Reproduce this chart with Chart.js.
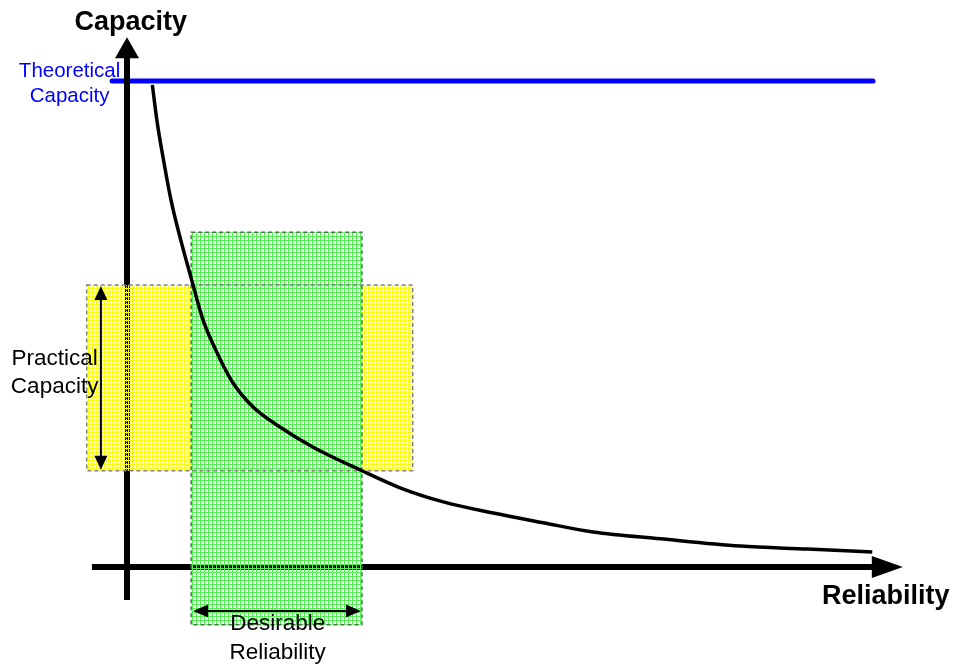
<!DOCTYPE html>
<html>
<head>
<meta charset="utf-8">
<script src="https://cdn.jsdelivr.net/npm/chart.js@4.4.1/dist/chart.umd.min.js"></script>
<style>
  html, body { margin: 0; padding: 0; background: #ffffff; }
  #wrap { width: 957px; height: 671px; }
</style>
</head>
<body>
<div id="wrap"><canvas id="c" width="957" height="671"></canvas></div>
<script>
// ---------- DATA (abstract units: Reliability on x, Capacity on y) ----------
const reliability = [0.34, 0.40, 0.49, 0.59, 0.72, 0.87, 1.02, 1.21, 1.42, 1.69, 2.05, 2.49, 3.15, 3.66, 4.24, 4.91, 5.58, 6.25, 7.15, 8.22, 9.12, 9.99];
const capacity    = [9.92, 9.20, 8.37, 7.55, 6.73, 5.89, 5.08, 4.40, 3.79, 3.29, 2.88, 2.47, 1.98, 1.63, 1.34, 1.11, 0.91, 0.72, 0.58, 0.43, 0.37, 0.31];

const theoreticalCapacity = 10;
const theoreticalSpan = [-0.20, 10.00];          // reliability extent of the theoretical line

const practicalCapacityRange = [1.98, 5.80];     // capacity band (yellow)
const practicalBandSpan = [-0.54, 3.83];         // reliability extent of yellow band

const desirableReliabilityRange = [0.86, 3.15];  // reliability band (green)
const desirableBandSpan = [-1.19, 6.89];         // capacity extent of green band

const xAxisSpan = [-0.47, 10.40];
const yAxisSpan = [-0.68, 10.90];

const axisTitles = ['Capacity', 'Reliability'];
const theoreticalLabel = ['Theoretical', 'Capacity'];
const practicalLabel = ['Practical', 'Capacity'];
const desirableLabel = ['Desirable', 'Reliability'];

// ---------- patterns ----------
function makePattern(rows, colors) {
  const c = document.createElement('canvas');
  c.width = rows[0].length; c.height = rows.length;
  const g = c.getContext('2d');
  rows.forEach((r, y) => {
    for (let x = 0; x < r.length; x++) {
      const col = colors[r[x]];
      if (col) { g.fillStyle = col; g.fillRect(x, y, 1, 1); }
    }
  });
  return g.createPattern(c, 'repeat');
}
const ctx0 = document.getElementById('c').getContext('2d');
const yellowPattern = makePattern(
  ['YYYY', 'Y.Y.', 'Yl.l', 'Y.Y.'],
  { Y: 'rgb(255,255,20)', l: 'rgba(255,255,0,0.2)' }
);
const greenPattern = makePattern(
  ['GGGG', 'G.l.', 'Gl.l', 'G.l.'],
  { G: 'rgb(80,240,80)', l: 'rgba(60,245,60,0.25)' }
);

const pts = (xs, ys) => xs.map((x, i) => ({ x, y: ys[i] }));

const FONT = '"Liberation Sans", Arial, Helvetica, sans-serif';

function arrowHead(ctx, tipX, tipY, dx, dy, len, half) {
  const bx = tipX - dx * len, by = tipY - dy * len;
  const nx = -dy, ny = dx;
  ctx.beginPath();
  ctx.moveTo(tipX, tipY);
  ctx.lineTo(bx + nx * half, by + ny * half);
  ctx.lineTo(bx - nx * half, by - ny * half);
  ctx.closePath();
  ctx.fill();
}

const diagramPlugin = {
  id: 'diagram',
  afterDatasetDraw(chart, args) {
    const ctx = chart.ctx;
    const X = v => chart.scales.x.getPixelForValue(v);
    const Y = v => chart.scales.y.getPixelForValue(v);
    if (args.index === 3) {
      ctx.save();
      ctx.fillStyle = '#000'; ctx.strokeStyle = '#000';
      ctx.lineWidth = 6;
      const yx = X(0), yb = Y(yAxisSpan[0]), yt = Y(yAxisSpan[1]);
      ctx.beginPath(); ctx.moveTo(yx, yb); ctx.lineTo(yx, yt + 20); ctx.stroke();
      arrowHead(ctx, yx, yt, 0, -1, 21, 12);
      const xy = Y(0), xl = X(xAxisSpan[0]), xr = X(xAxisSpan[1]);
      ctx.beginPath(); ctx.moveTo(xl, xy); ctx.lineTo(xr - 30, xy); ctx.stroke();
      arrowHead(ctx, xr, xy, 1, 0, 31, 11);
      ctx.restore();
    }
    if (args.index === 1) {
      ctx.save();
      ctx.lineWidth = 1.5;
      ctx.setLineDash([4, 3]);
      ctx.strokeStyle = 'rgb(130,130,130)';
      ctx.strokeRect(X(practicalBandSpan[0]), Y(practicalCapacityRange[1]),
        X(practicalBandSpan[1]) - X(practicalBandSpan[0]),
        Y(practicalCapacityRange[0]) - Y(practicalCapacityRange[1]));
      ctx.strokeStyle = 'rgb(70,120,70)';
      ctx.strokeRect(X(desirableReliabilityRange[0]), Y(desirableBandSpan[1]),
        X(desirableReliabilityRange[1]) - X(desirableReliabilityRange[0]),
        Y(desirableBandSpan[0]) - Y(desirableBandSpan[1]));
      ctx.restore();
    }
  },
  afterDatasetsDraw(chart) {
    const ctx = chart.ctx;
    const X = v => chart.scales.x.getPixelForValue(v);
    const Y = v => chart.scales.y.getPixelForValue(v);
    ctx.save();
    ctx.fillStyle = '#000'; ctx.strokeStyle = '#000'; ctx.lineWidth = 2;
    const ax = X(-0.35), aTop = Y(practicalCapacityRange[1]) + 1, aBot = Y(practicalCapacityRange[0]) - 1;
    ctx.beginPath(); ctx.moveTo(ax, aTop + 12); ctx.lineTo(ax, aBot - 12); ctx.stroke();
    arrowHead(ctx, ax, aTop, 0, -1, 14, 6.5);
    arrowHead(ctx, ax, aBot, 0, 1, 14, 6.5);
    const ay = Y(-0.905), aL = X(desirableReliabilityRange[0]) + 2, aR = X(desirableReliabilityRange[1]) - 1;
    ctx.beginPath(); ctx.moveTo(aL + 12, ay); ctx.lineTo(aR - 12, ay); ctx.stroke();
    arrowHead(ctx, aL, ay, -1, 0, 15, 6.5);
    arrowHead(ctx, aR, ay, 1, 0, 15, 6.5);

    ctx.textAlign = 'center';
    ctx.textBaseline = 'middle';
    ctx.font = 'bold 27px ' + FONT;
    ctx.fillText(axisTitles[0], X(0.05), Y(11.20));
    ctx.fillText(axisTitles[1], X(10.17), Y(-0.60));
    ctx.font = '20.5px ' + FONT;
    ctx.fillStyle = '#0000FF';
    ctx.fillText(theoreticalLabel[0], X(-0.77), Y(10.19));
    ctx.fillText(theoreticalLabel[1], X(-0.77), Y(9.68));
    ctx.fillStyle = '#000';
    ctx.font = '22.5px ' + FONT;
    ctx.fillText(practicalLabel[0], X(-0.97), Y(4.28));
    ctx.fillText(practicalLabel[1], X(-0.97), Y(3.71));
    ctx.fillText(desirableLabel[0], X(2.02), Y(-1.17));
    ctx.fillText(desirableLabel[1], X(2.02), Y(-1.76));
    ctx.restore();
  }
};

new Chart(ctx0, {
  type: 'line',
  data: {
    datasets: [
      {
        data: pts(reliability, capacity),
        borderColor: '#000', borderWidth: 3.5, pointRadius: 0,
        cubicInterpolationMode: 'monotone', fill: false
      },
      {
        data: [{ x: desirableReliabilityRange[0], y: desirableBandSpan[1] }, { x: desirableReliabilityRange[1], y: desirableBandSpan[1] }],
        borderWidth: 0, pointRadius: 0, tension: 0,
        backgroundColor: greenPattern, fill: { value: desirableBandSpan[0] }
      },
      {
        data: [{ x: practicalBandSpan[0], y: practicalCapacityRange[1] }, { x: practicalBandSpan[1], y: practicalCapacityRange[1] }],
        borderWidth: 0, pointRadius: 0, tension: 0,
        backgroundColor: yellowPattern, fill: { value: practicalCapacityRange[0] }
      },
      {
        data: [{ x: theoreticalSpan[0], y: theoreticalCapacity }, { x: theoreticalSpan[1], y: theoreticalCapacity }],
        borderColor: '#0000FF', borderWidth: 5, pointRadius: 0, tension: 0, fill: false,
        borderCapStyle: 'round'
      }
    ]
  },
  options: {
    responsive: false,
    animation: false,
    devicePixelRatio: 1,
    layout: { padding: 0 },
    plugins: { legend: { display: false }, tooltip: { enabled: false } },
    scales: {
      x: { type: 'linear', display: false, min: -127 / 74.6, max: (957 - 127) / 74.6 },
      y: { type: 'linear', display: false, min: (567 - 671) / 48.6, max: 567 / 48.6 }
    }
  },
  plugins: [diagramPlugin]
});
</script>
</body>
</html>
